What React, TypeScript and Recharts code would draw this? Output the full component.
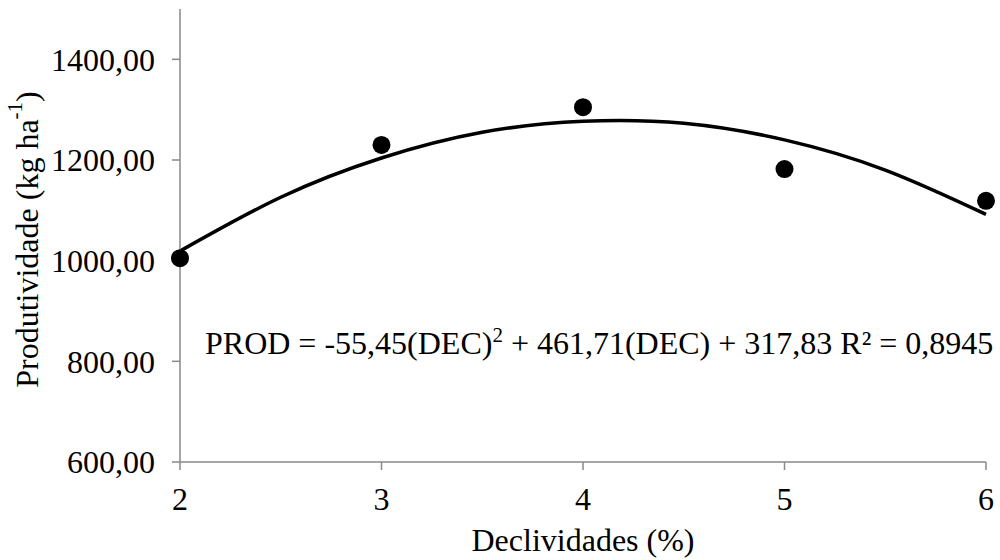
import React from 'react';
import { ComposedChart, Line, Scatter, XAxis, YAxis, Label } from 'recharts';

// Declividade (%) e produtividade observada (kg/ha)
const declividades = [2, 3, 4, 5, 6];
const produtividade = [1005, 1230, 1305, 1182, 1119];

const curvaX = [2, 2.5, 3, 3.5, 4, 4.5, 5, 5.5, 6];
const curvaY = [1019, 1126, 1204, 1255, 1277, 1273, 1240, 1180, 1092];

const xTicks = [2, 3, 4, 5, 6];
const yTicks = [600, 800, 1000, 1200, 1400];

const pontos = declividades.map((x, i) => ({ x, y: produtividade[i] }));
const curva = curvaX.map((x, i) => ({ x, y: curvaY[i] }));

const FONT = '"Liberation Serif", "Times New Roman", serif';
const AXIS = '#898989';

const fmt = (v: number) => v.toFixed(2).replace('.', ',');

const YTitle = (props: any) => {
  const { viewBox } = props;
  const cx = 27;
  const cy = viewBox.y + viewBox.height / 2 + 4;
  return (
    <text
      x={cx}
      y={cy}
      transform={`rotate(-90, ${cx}, ${cy})`}
      textAnchor="middle"
      dominantBaseline="central"
      fontFamily={FONT}
      fontSize={32}
      fill="#000"
    >
      Produtividade (kg ha
      <tspan fontSize={21} dy={-12}>-1</tspan>
      <tspan dy={12}>)</tspan>
    </text>
  );
};

const XTitle = (props: any) => {
  const { viewBox } = props;
  return (
    <text
      x={viewBox.x + viewBox.width / 2}
      y={551}
      textAnchor="middle"
      fontFamily={FONT}
      fontSize={32}
      fill="#000"
    >
      Declividades (%)
    </text>
  );
};

export default function App() {
  return (
    <div style={{ position: 'absolute', left: 0, top: 0, width: 1000, height: 560, background: '#fff' }}>
      <ComposedChart
        width={1000}
        height={560}
        margin={{ top: 9, right: 14, bottom: 0, left: 0 }}
      >
        <XAxis
          type="number"
          dataKey="x"
          domain={[2, 6]}
          ticks={xTicks}
          allowDuplicatedCategory={false}
          height={98}
          stroke={AXIS}
          strokeWidth={1.5}
          tickSize={8}
          tickMargin={17}
          tick={{ fill: '#000', fontFamily: FONT, fontSize: 32 }}
        >
          <Label content={<XTitle />} />
        </XAxis>
        <YAxis
          type="number"
          dataKey="y"
          domain={[600, 1500]}
          ticks={yTicks}
          width={180}
          stroke={AXIS}
          strokeWidth={1.5}
          tickSize={8}
          tickMargin={17}
          tickFormatter={fmt}
          tick={{ fill: '#000', fontFamily: FONT, fontSize: 32 }}
        >
          <Label content={<YTitle />} />
        </YAxis>
        <Line
          data={curva}
          dataKey="y"
          type="natural"
          stroke="#000"
          strokeWidth={3.5}
          dot={false}
          activeDot={false}
          isAnimationActive={false}
        />
        <Scatter
          data={pontos}
          dataKey="y"
          fill="#000"
          shape={(p: any) => <circle cx={p.cx} cy={p.cy} r={9} fill="#000" />}
          isAnimationActive={false}
        />
        <text x={205} y={354} fontFamily={FONT} fontSize={32} fill="#000">
          PROD = -55,45(DEC)
          <tspan fontSize={21} dy={-12}>2</tspan>
          <tspan dy={12}> + 461,71(DEC) + 317,83 R² = 0,8945</tspan>
        </text>
      </ComposedChart>
    </div>
  );
}
